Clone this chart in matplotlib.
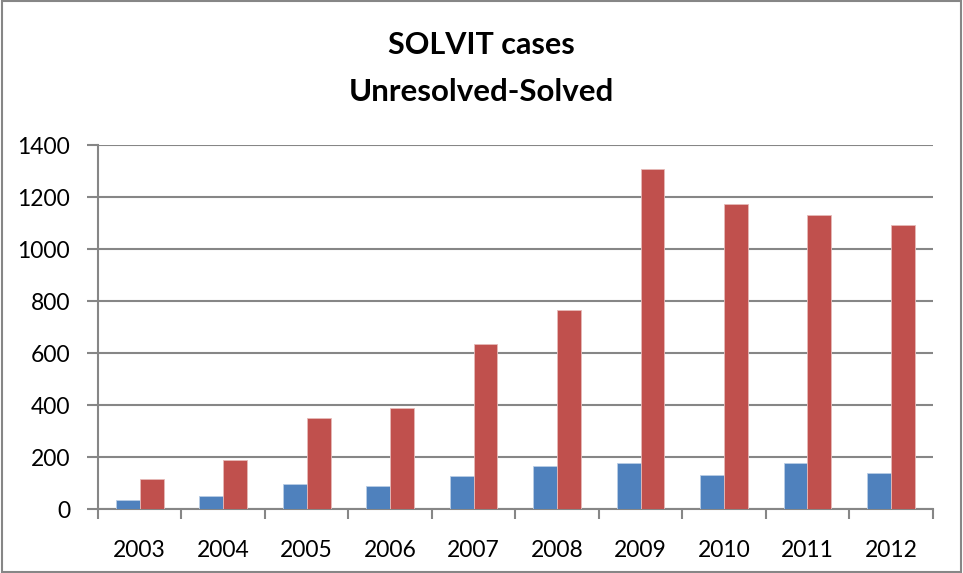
import numpy as np
import matplotlib
matplotlib.use("Agg")
import matplotlib.pyplot as plt
from matplotlib.patches import Rectangle

years = ["2003", "2004", "2005", "2006", "2007", "2008", "2009", "2010", "2011", "2012"]
unresolved = [36, 51, 97, 87, 127, 164, 176, 131, 176, 140]
solved = [114, 190, 349, 390, 633, 767, 1308, 1172, 1130, 1094]

plt.rcParams['font.family'] = ['Lato', 'DejaVu Sans']

fig = plt.figure(figsize=(9.63, 5.73), dpi=100)
ax = fig.add_axes([98/963, 1-509/573, (932.7-98)/963, (509-145)/573])

x = np.arange(len(years))
w = 0.286
ax.bar(x - w/2, unresolved, width=w, color='#4F81BD', edgecolor='#B9CDE5', linewidth=0.6, zorder=3)
ax.bar(x + w/2, solved, width=w, color='#C0504D', edgecolor='#E6B9B8', linewidth=0.6, zorder=3)

ax.set_xlim(-0.5, len(years) - 0.5)
ax.set_ylim(0, 1400)
ax.set_yticks(range(0, 1401, 200))
ax.set_xticks(x)
ax.set_xticklabels(years)
ax.set_xticks(np.arange(-0.5, len(years)), minor=True)
ax.tick_params(axis='x', which='major', length=0, pad=22, labelsize=16.5)
ax.tick_params(axis='x', which='minor', length=7, width=1.5, color='#868686')
ax.tick_params(axis='y', length=8, width=1.5, color='#868686', pad=12, labelsize=16.5)
ax.grid(axis='y', color='#868686', linewidth=1.5, zorder=0)
for s in ['top', 'right']:
    ax.spines[s].set_visible(False)
for s in ['left', 'bottom']:
    ax.spines[s].set_color('#868686')
    ax.spines[s].set_linewidth(1.5)

fig.text(0.5, 1-45/573, "SOLVIT cases", ha='center', va='center', fontsize=22, fontweight='bold')
fig.text(0.5, 1-92/573, "Unresolved-Solved", ha='center', va='center', fontsize=22.5, fontweight='bold')

fig.patches.append(Rectangle((2/963, 1/573), 959/963, 571/573, transform=fig.transFigure,
                             fill=False, edgecolor='#868686', linewidth=1.5))

fig.savefig("out.png", dpi=100)
